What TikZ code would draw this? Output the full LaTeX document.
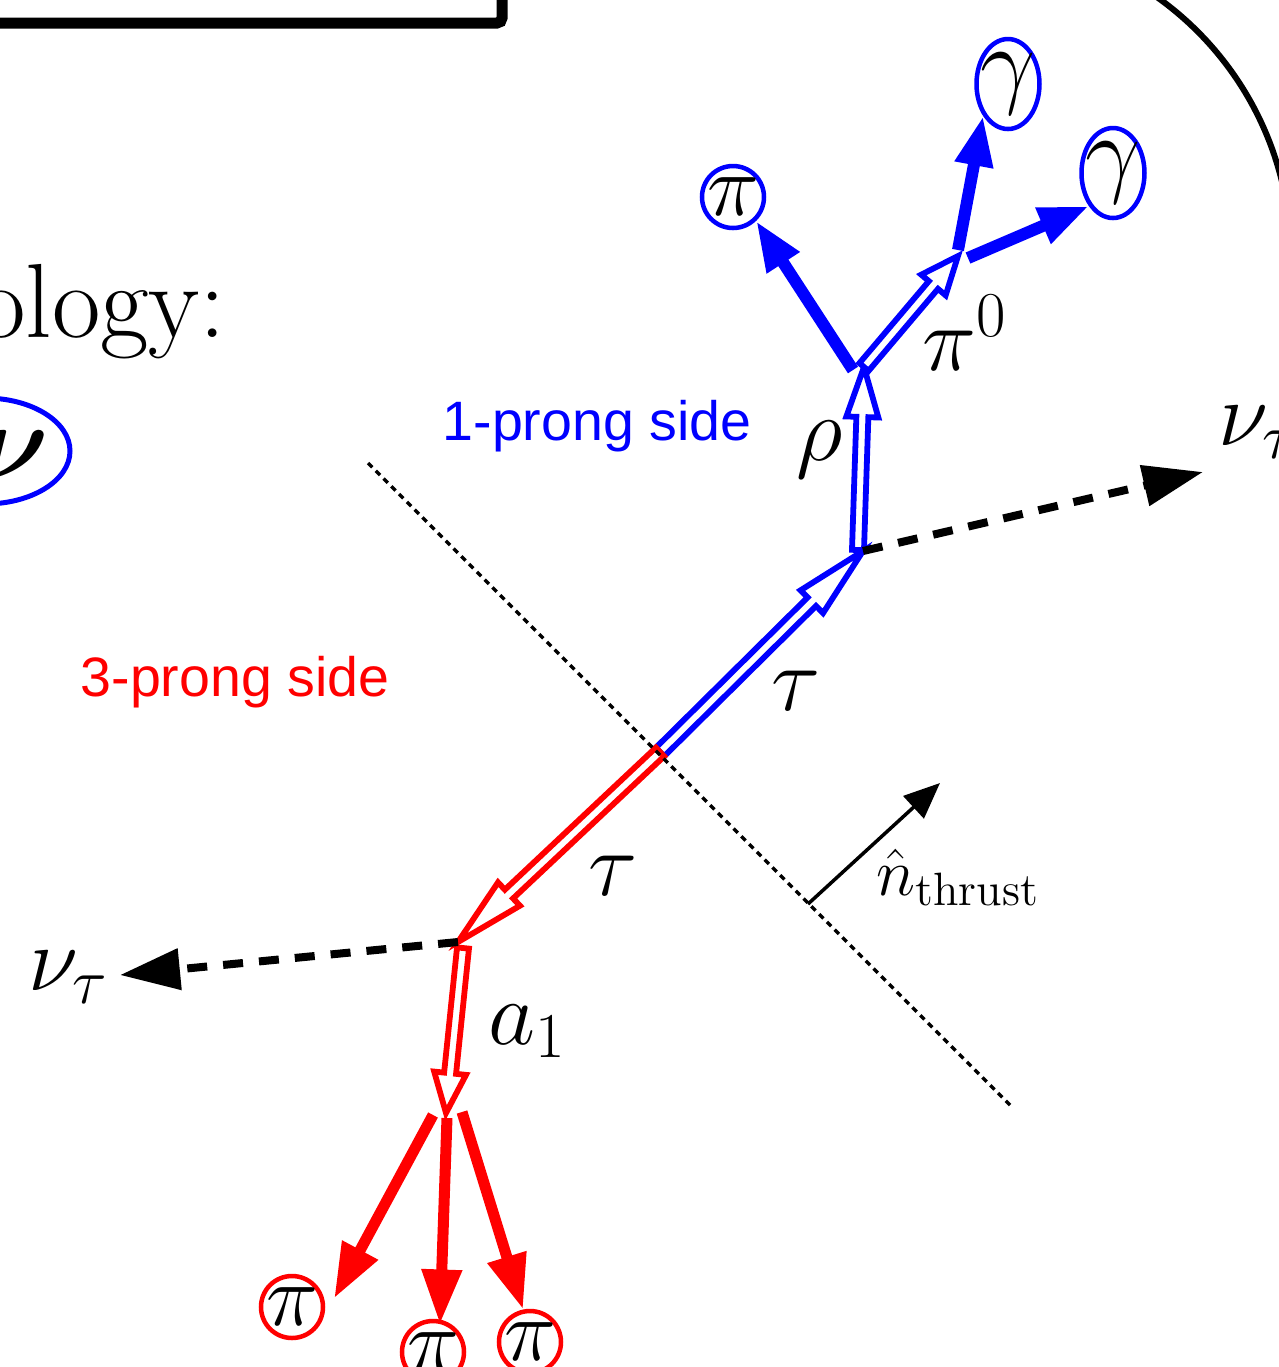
\RequirePackage{fix-cm}
\documentclass[tikz,border=0pt]{standalone}
\usepackage{amsmath,amssymb}
\usepackage{fontspec}
\setsansfont{Liberation Sans}
\usetikzlibrary{arrows.meta,shapes.geometric,calc}

\newcommand{\hollowarrow}[4]{%
  \coordinate (hb) at ($(#3)!#4!(#2)$);
  \draw[#1, hollow] ($(#2)!0.06cm!90:(#3)$) -- ($(hb)!0.06cm!-90:(#2)$)
    -- ($(hb)!0.16cm!-90:(#2)$) -- (#3) -- ($(hb)!0.16cm!90:(#2)$)
    -- ($(hb)!0.06cm!90:(#2)$) -- ($(#2)!0.06cm!-90:(#3)$) -- cycle;
}

\begin{document}
\begin{tikzpicture}[
    hollow/.style={line width=0.058cm, fill=white, line join=miter},
    thickb/.style={blue, line width=0.12cm, -{Triangle[length=0.5cm, width=0.36cm]}},
    thickr/.style={red, line width=0.11cm, -{Triangle[length=0.55cm, width=0.38cm]}},
    nuarr/.style={line width=0.08cm, dash pattern=on 0.2cm off 0.16cm, -{Triangle[length=0.6cm, width=0.4cm]}},
    pion/.style={circle, draw, line width=0.045cm, inner sep=-2pt, minimum size=0.62cm, font=\fontsize{25}{28}\selectfont},
    phot/.style={ellipse, draw=blue, line width=0.045cm, inner sep=-2pt, minimum width=0.63cm, minimum height=0.9cm, font=\fontsize{28}{32}\selectfont},
    lab/.style={font=\fontsize{26}{30}\selectfont, inner sep=0pt},
    side/.style={font=\sffamily\fontsize{15.8}{18}\selectfont, inner sep=0pt}
]
\useasboundingbox (0,0) rectangle (12.79,-13.67);
\clip (0,0) rectangle (12.79,-13.67);

\draw[line width=0.11cm, rounded corners=0.05cm] (-0.5,-0.23) -- (5.02,-0.23) -- (5.02,0.5);
\draw[line width=0.06cm] (9.72,-2.57) ++(60:3.19) arc[start angle=60, end angle=10, radius=3.19];
\node[font=\fontsize{30}{34}\selectfont, inner sep=0pt, anchor=base east] (topo) at (2.27,-3.37) {ology:};
\draw[blue, line width=0.05cm] (-0.15,-4.51) ellipse [x radius=0.85, y radius=0.53];
\node[font=\fontsize{31}{34}\selectfont, inner sep=0pt] (nub) at (0.14,-4.55) {$\boldsymbol{\nu}$};

\node[side, blue, anchor=base west] (one) at (4.42,-4.40) {1-prong side};
\node[side, red, anchor=base west] (three) at (0.80,-6.96) {3-prong side};

\coordinate (vtx) at (6.60,-7.52);
\coordinate (tauB) at (8.63,-5.51);
\coordinate (tauR) at (4.58,-9.42);
\coordinate (rhoS) at (8.58,-5.50);
\coordinate (rhoE) at (8.64,-3.67);
\coordinate (pizE) at (9.58,-2.56);
\coordinate (aS) at (4.63,-9.48);
\coordinate (aE) at (4.46,-11.13);
\coordinate (nuR) at (12.03,-4.72);
\coordinate (nuL) at (1.20,-9.75);

\node[pion, draw=blue] (pib) at (7.33,-1.97) {$\pi$};
\node[phot] (ga) at (10.08,-0.84) {$\gamma$};
\node[phot] (gb) at (11.13,-1.73) {$\gamma$};
\node[pion, draw=red] (pa) at (2.92,-13.07) {$\pi$};
\node[pion, draw=red] (pb) at (4.33,-13.52) {$\pi$};
\node[pion, draw=red] (pc) at (5.30,-13.42) {$\pi$};

\hollowarrow{blue}{vtx}{tauB}{0.72cm}
\hollowarrow{red}{vtx}{tauR}{0.7cm}
\hollowarrow{blue}{rhoS}{rhoE}{0.5cm}
\hollowarrow{blue}{rhoE}{pizE}{0.38cm}
\hollowarrow{red}{aS}{aE}{0.4cm}

\draw[thickb] ([xshift=-0.11cm,yshift=-0.03cm]rhoE) -- (pib.-46);
\draw[thickb] ([yshift=0.06cm]pizE) -- (ga.232);
\draw[thickb] ([xshift=0.1cm,yshift=-0.02cm]pizE) -- (gb.234);

\draw[thickr] ([xshift=-0.13cm,yshift=-0.02cm]aE) -- ([xshift=0.1cm]pa.15);
\draw[thickr] ([xshift=0.01cm,yshift=-0.05cm]aE) -- ([yshift=-0.05cm]pb.78);
\draw[thickr] ([xshift=0.16cm,yshift=0.01cm]aE) -- (pc.102);

\draw[nuarr] (tauB) -- (nuR);
\draw[nuarr] (tauR) -- (nuL);

\coordinate (cutA) at (3.68,-4.63);
\coordinate (cutB) at (10.13,-11.08);
\coordinate (thr) at (8.08,-9.04);
\coordinate (thrE) at (9.40,-7.83);
\draw[line width=0.035cm, dash pattern=on 0.06cm off 0.05cm] (cutA) -- (cutB);
\draw[line width=0.035cm, -{Triangle[length=0.36cm, width=0.3cm]}] (thr) -- (thrE);

\node[lab, anchor=base west] (nurl) at (12.18,-4.45) {$\nu_\tau$};
\node[lab, anchor=base west] (null) at (0.28,-9.90) {$\nu_\tau$};
\node[lab, anchor=base west] (rho) at (7.96,-4.60) {$\rho$};
\node[lab, anchor=base west] (piz) at (9.22,-3.70) {$\pi^0$};
\node[lab, anchor=base west] (taub) at (7.71,-7.10) {$\tau$};
\node[lab, anchor=base west] (taur) at (5.88,-8.95) {$\tau$};
\node[lab, anchor=base west] (aone) at (4.88,-10.44) {$a_1$};
\node[font=\fontsize{19}{22}\selectfont, inner sep=0pt, anchor=base west] (nthr) at (8.76,-8.95) {$\hat{n}_{\text{thrust}}$};
\end{tikzpicture}
\end{document}
